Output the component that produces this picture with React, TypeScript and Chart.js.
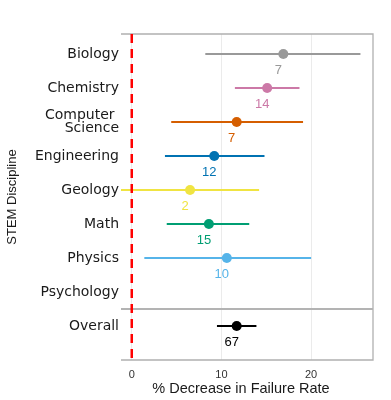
import { useEffect, useRef } from "react";
import Chart from "chart.js/auto";

const categories = ["Biology", "Chemistry", "Computer Science", "Engineering", "Geology", "Math", "Physics", "Psychology", "Overall"];
const estimates = [16.9, 15.1, 11.7, 9.2, 6.5, 8.6, 10.6, null, 11.7];
const lowerCI = [8.2, 11.5, 4.4, 3.7, -1.5, 3.9, 1.4, null, 9.5];
const upperCI = [25.5, 18.7, 19.1, 14.8, 14.2, 13.1, 20.0, null, 13.9];
const studyCounts = [7, 14, 7, 12, 2, 15, 10, null, 67];
const colors = ["#999999", "#CC79A7", "#D55E00", "#0072B2", "#F0E442", "#009E73", "#56B4E9", "#999999", "#000000"];
const xTicks = [0, 10, 20];
const xMin = -1.2;
const xMax = 26.9;
const yMin = 0.41;
const yMax = 10;
const separatorY = 8.5;

const FONT = "'Liberation Sans', Arial, sans-serif";
const WIDE = "'DejaVu Sans', sans-serif";

export default function App() {
  const ref = useRef<HTMLCanvasElement | null>(null);
  useEffect(() => {
    if (!ref.current) return;
    const datasets: any[] = [];
    categories.forEach((c, i) => {
      if (estimates[i] == null) return;
      datasets.push({
        type: "line",
        label: c + " CI",
        data: [
          { x: lowerCI[i], y: i + 1 },
          { x: upperCI[i], y: i + 1 },
        ],
        borderColor: colors[i],
        borderWidth: 2,
        pointRadius: 0,
        order: 2,
      });
    });
    datasets.push({
      type: "line",
      label: "zero",
      data: [
        { x: 0, y: yMin },
        { x: 0, y: yMax },
      ],
      borderColor: "#ff0000",
      borderWidth: 2.5,
      borderDash: [9, 6],
      pointRadius: 0,
      order: 1,
    });
    const pts: any[] = [];
    const pc: string[] = [];
    categories.forEach((c, i) => {
      if (estimates[i] == null) return;
      pts.push({ x: estimates[i], y: i + 1, n: studyCounts[i], color: colors[i] });
      pc.push(colors[i]);
    });
    datasets.push({
      type: "scatter",
      label: "estimates",
      data: pts,
      backgroundColor: pc,
      borderColor: pc,
      pointRadius: 5,
      borderWidth: 0,
      order: 0,
    });

    const framePlugin = {
      id: "frame",
      beforeDatasetsDraw(chart: any) {
        const { ctx, chartArea, scales } = chart;
        ctx.save();
        ctx.strokeStyle = "#b0b0b0";
        ctx.lineWidth = 1.3;
        ctx.beginPath();
        ctx.moveTo(chartArea.left, chartArea.top);
        ctx.lineTo(chartArea.right, chartArea.top);
        ctx.lineTo(chartArea.right, chartArea.bottom);
        ctx.lineTo(chartArea.left, chartArea.bottom);
        ctx.stroke();
        const sy = scales.y.getPixelForValue(separatorY);
        ctx.lineWidth = 2;
        ctx.strokeStyle = "#b3b3b3";
        ctx.beginPath();
        ctx.moveTo(chartArea.left, sy);
        ctx.lineTo(chartArea.right, sy);
        ctx.stroke();
        ctx.restore();
      },
      afterDatasetsDraw(chart: any) {
        const { ctx, scales } = chart;
        ctx.save();
        ctx.font = "13px " + FONT;
        ctx.textAlign = "center";
        ctx.textBaseline = "middle";
        pts.forEach((p) => {
          const px = scales.x.getPixelForValue(p.x);
          const py = scales.y.getPixelForValue(p.y);
          ctx.fillStyle = p.color;
          ctx.fillText(String(p.n), px - 5, py + 16);
        });
        ctx.restore();
      },
    };

    const chart = new Chart(ref.current, {
      type: "scatter",
      data: { datasets },
      plugins: [framePlugin],
      options: {
        animation: false,
        responsive: false,
        maintainAspectRatio: false,
        layout: { padding: { left: 0, right: 18, top: 34, bottom: 0 } },
        plugins: { legend: { display: false }, tooltip: { enabled: false } },
        scales: {
          x: {
            type: "linear",
            min: xMin,
            max: xMax,
            afterBuildTicks: (s: any) => {
              s.ticks = xTicks.map((v) => ({ value: v }));
            },
            afterFit: (s: any) => {
              s.height = 40;
            },
            grid: { color: "#ebebeb", lineWidth: 1, drawTicks: false },
            border: { display: false },
            ticks: { padding: 8, color: "#333333", font: { size: 11, family: FONT } },
            title: {
              display: true,
              text: "% Decrease in Failure Rate   ",
              color: "#1a1a1a",
              font: { size: 14.5, family: FONT },
              padding: { top: 0, bottom: 2 },
            },
          },
          y: {
            type: "linear",
            reverse: true,
            min: yMin,
            max: yMax,
            afterBuildTicks: (s: any) => {
              s.ticks = categories.map((_, i) => ({ value: i + 1 }));
            },
            afterFit: (s: any) => {
              s.width = 121;
            },
            grid: { display: false, drawTicks: false },
            border: { display: false },
            ticks: {
              padding: 2,
              color: "#1a1a1a",
              font: { size: 14, family: WIDE, lineHeight: 0.95 },
              callback: (v: any) => {
                const c = categories[Math.round(Number(v)) - 1];
                if (!c) return "";
                if (c === "Computer Science") return ["Computer ", "Science"];
                return c;
              },
            },
            title: {
              display: true,
              text: "STEM Discipline",
              color: "#1a1a1a",
              font: { size: 13, family: FONT },
              padding: { top: 5, bottom: 0 },
            },
          },
        },
      },
    } as any);
    return () => chart.destroy();
  }, []);
  return (
    <div style={{ position: "absolute", left: 0, top: 0, width: 391, height: 400, background: "#fff" }}>
      <canvas ref={ref} width={391} height={400} style={{ width: 391, height: 400 }} />
    </div>
  );
}
